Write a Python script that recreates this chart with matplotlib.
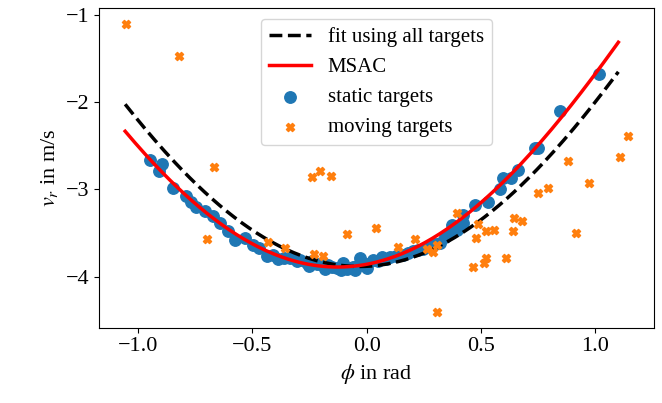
import numpy as np
import matplotlib
matplotlib.use("Agg")
import matplotlib.pyplot as plt

plt.rcParams['font.family'] = ['Liberation Serif', 'DejaVu Serif']
plt.rcParams['mathtext.fontset'] = 'stix'
plt.rcParams['font.size'] = 16

# static targets (azimuth in rad, radial velocity in m/s)
static_phi = [-0.946, -0.893, -0.907, -0.845, -0.789, -0.768, -0.745, -0.705,
              -0.670, -0.641, -0.605, -0.575, -0.532, -0.497, -0.470, -0.436,
              -0.408, -0.387, -0.360, -0.335, -0.305, -0.291, -0.260, -0.250,
              -0.240, -0.218, -0.195, -0.180, -0.169, -0.150, -0.130, -0.110,
              -0.103, -0.085, -0.060, -0.050, -0.040, -0.029, 0.000, 0.000,
              0.028, 0.050, 0.066, 0.085, 0.102, 0.130, 0.160, 0.180, 0.204,
              0.225, 0.247, 0.276, 0.300, 0.320, 0.342, 0.364, 0.371, 0.393,
              0.422, 0.422, 0.473, 0.531, 0.582, 0.597, 0.633, 0.662, 0.735,
              0.749, 0.847, 1.016]
static_vr = [-2.66, -2.71, -2.79, -2.98, -3.07, -3.14, -3.20, -3.25,
             -3.31, -3.39, -3.48, -3.58, -3.56, -3.64, -3.67, -3.76,
             -3.75, -3.80, -3.79, -3.79, -3.82, -3.81, -3.84, -3.88,
             -3.82, -3.85, -3.87, -3.91, -3.87, -3.89, -3.90, -3.92,
             -3.84, -3.91, -3.89, -3.92, -3.88, -3.79, -3.86, -3.90,
             -3.81, -3.82, -3.77, -3.80, -3.77, -3.76, -3.75, -3.73, -3.71,
             -3.70, -3.68, -3.66, -3.63, -3.62, -3.55, -3.50, -3.41, -3.46,
             -3.39, -3.29, -3.18, -3.14, -2.99, -2.87, -2.87, -2.78, -2.52,
             -2.52, -2.10, -1.67]

# moving targets
moving_phi = [-1.053, -0.821, -0.668, -0.699, -0.239, -0.204, -0.156, -0.087,
              0.039, -0.432, -0.357, -0.229, -0.190, 0.138, 0.211, 0.264,
              0.291, 0.309, 0.393, 0.485, 0.479, 0.521, 0.556, 0.640, 0.645,
              0.681, 0.611, 0.520, 0.514, 0.466, 0.749, 0.793, 0.882, 0.972,
              0.913, 1.109, 1.140, 0.309]
moving_vr = [-1.107, -1.470, -2.740, -3.572, -2.854, -2.785, -2.843, -3.515,
             -3.443, -3.607, -3.676, -3.744, -3.764, -3.657, -3.572, -3.680,
             -3.720, -3.638, -3.267, -3.397, -3.561, -3.473, -3.466, -3.477,
             -3.332, -3.359, -3.790, -3.790, -3.840, -3.886, -3.045, -2.987,
             -2.671, -2.930, -3.504, -2.625, -2.384, -4.410]

# velocity profile v_r = a*cos(phi) + b*sin(phi)
fit_all = (-3.882, 0.124)
fit_msac = (-3.859, 0.493)
phi_range = (-1.055, 1.10)

phi = np.linspace(phi_range[0], phi_range[1], 200)

fig = plt.figure(figsize=(6.62, 4.03), dpi=100)
ax = fig.add_axes([0.150, 0.187, 0.838, 0.792])

ax.scatter(static_phi, static_vr, s=68, color='#1f77b4', zorder=1,
           label='static targets')
ax.plot(phi, fit_all[0] * np.cos(phi) + fit_all[1] * np.sin(phi), 'k--',
        lw=2.5, zorder=2, label='fit using all targets')
ax.plot(phi, fit_msac[0] * np.cos(phi) + fit_msac[1] * np.sin(phi), color='red',
        lw=2.5, zorder=2, label='MSAC')
ax.scatter(moving_phi, moving_vr, s=34, marker='X', color='#ff7f0e', zorder=3,
           label='moving targets')

ax.set_xlim(-1.168, 1.256)
ax.set_ylim(-4.586, -0.923)
ax.set_xticks([-1.0, -0.5, 0.0, 0.5, 1.0])
ax.set_yticks([-1, -2, -3, -4])
ax.set_xlabel(r'$\phi$ in rad')
ax.set_ylabel(r'$v_r$ in m/s')

h, l = ax.get_legend_handles_labels()
order = [l.index(n) for n in ['fit using all targets', 'MSAC', 'static targets', 'moving targets']]
ax.legend([h[i] for i in order], [l[i] for i in order], loc='upper center',
          fontsize=15)

fig.savefig('out.png', dpi=100)
